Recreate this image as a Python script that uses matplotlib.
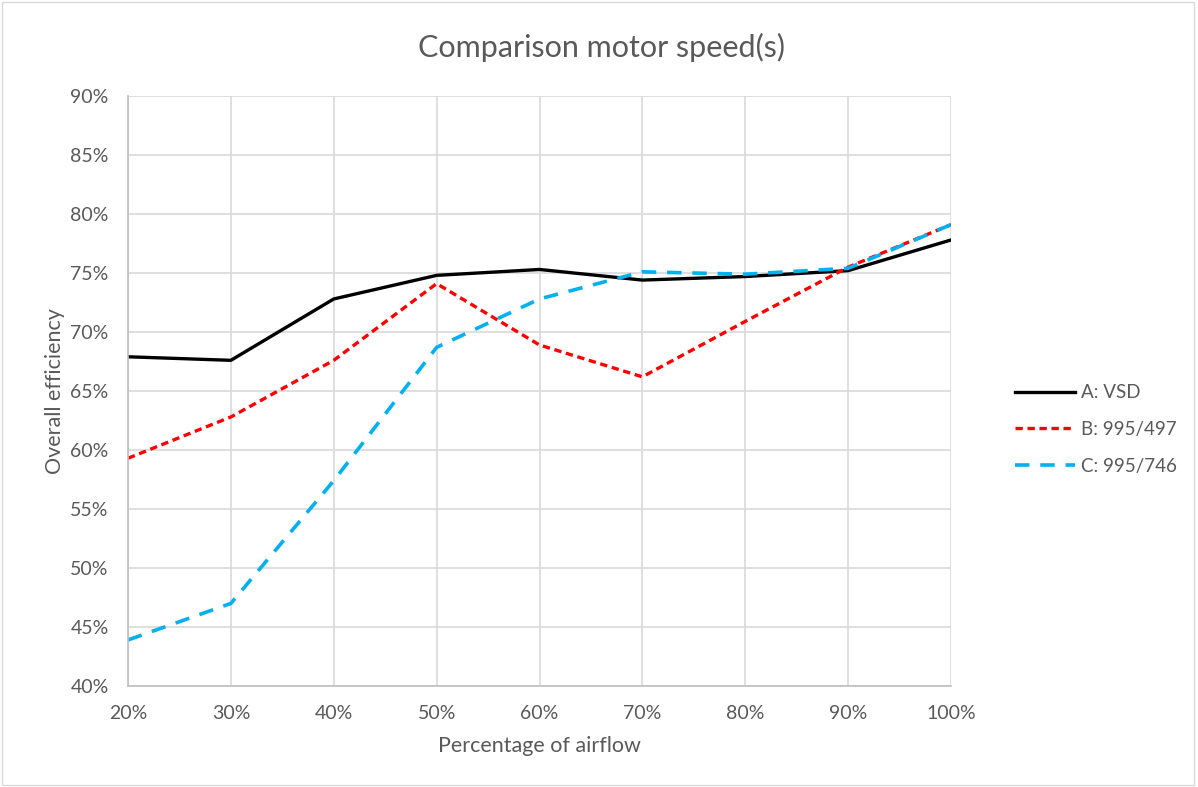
import matplotlib.pyplot as plt
from matplotlib.patches import Rectangle

plt.rcParams['font.family'] = ['Lato', 'DejaVu Sans']

airflow = [20, 30, 40, 50, 60, 70, 80, 90, 100]
vsd = [67.9, 67.6, 72.8, 74.8, 75.3, 74.4, 74.7, 75.2, 77.8]
b_995_497 = [59.3, 62.8, 67.6, 74.1, 68.9, 66.2, 70.9, 75.5, 79.1]
c_995_746 = [43.9, 47.0, 57.4, 68.7, 72.8, 75.1, 74.9, 75.4, 79.1]
labels = ['A: VSD', 'B: 995/497', 'C: 995/746']

grey = '#595959'

fig = plt.figure(figsize=(11.98, 7.87), dpi=100)
ax = fig.add_axes([128/1198, 1-686/787, (951-128)/1198, (686-96)/787])

ax.plot(airflow, vsd, color='black', lw=2.4, label=labels[0])
ax.plot(airflow, b_995_497, color='#FF0000', lw=2.4, dashes=(2.2, 1.4), label=labels[1])
ax.plot(airflow, c_995_746, color='#00B0F0', lw=2.6, dashes=(4, 3), label=labels[2])

ax.set_xlim(20, 100)
ax.set_ylim(40, 90)
ax.set_xticks(airflow)
ax.set_xticklabels([f'{v}%' for v in airflow])
ax.set_yticks(range(40, 91, 5))
ax.set_yticklabels([f'{v}%' for v in range(40, 91, 5)])
ax.grid(True, color='#D9D9D9', lw=1.2)
ax.set_axisbelow(True)
for s in ['top', 'right']:
    ax.spines[s].set_visible(False)
for s in ['left', 'bottom']:
    ax.spines[s].set_color('#BFBFBF')
    ax.spines[s].set_linewidth(1.2)
ax.tick_params(axis='x', length=0, labelsize=14, colors=grey, pad=14)
ax.tick_params(axis='y', length=0, labelsize=14, colors=grey, pad=14)

ax.set_xlabel('Percentage of airflow', fontsize=15.5, color=grey, labelpad=10)
ax.set_ylabel('Overall efficiency', fontsize=15.5, color=grey, labelpad=4)
fig.text(0.5025, 1-47/787, 'Comparison motor speed(s)', fontsize=22, color=grey,
         ha='center', va='center')

ax.legend(loc='center left', bbox_to_anchor=(1.057, 0.435), frameon=False,
          fontsize=13.5, labelcolor=grey, handlelength=3.2, handletextpad=0.35,
          labelspacing=1.05)

fig.patches.append(Rectangle((0.002, 0.002), 0.995, 0.995, transform=fig.transFigure,
                             fill=False, edgecolor='#D9D9D9', lw=1))

fig.savefig('out.png', dpi=100)
